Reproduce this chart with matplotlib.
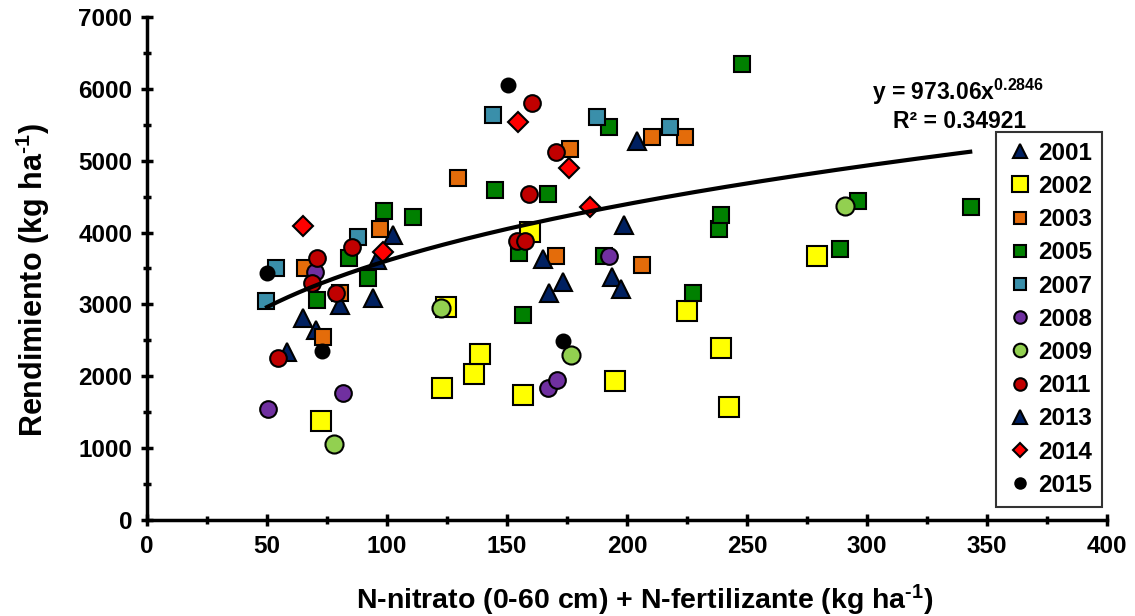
import numpy as np
import matplotlib.pyplot as plt
from matplotlib.ticker import MultipleLocator

plt.rcParams['font.family'] = ['Liberation Sans', 'DejaVu Sans']
plt.rcParams['font.weight'] = 'bold'
plt.rcParams['mathtext.fontset'] = 'custom'
plt.rcParams['mathtext.rm'] = 'Liberation Sans:bold'
plt.rcParams['mathtext.bf'] = 'Liberation Sans:bold'
plt.rcParams['mathtext.default'] = 'bf'

# Data: N available (kg/ha) and yield (kg/ha) per year
x_2001 = [58.3, 65.0, 70.4, 80.4, 94.2, 95.8, 102.5]
y_2001 = [2338, 2811, 2644, 2992, 3089, 3618, 3966]
x_2002 = [72.5, 122.9, 124.6, 136.2, 138.7, 156.7, 159.6, 195.0, 225.0, 239.2, 242.5, 279.2]
y_2002 = [1378, 1837, 2964, 2032, 2310, 1739, 4008, 1934, 2908, 2394, 1572, 3674]
x_2003 = [65.8, 73.3, 80.4, 97.1, 129.6, 170.4, 176.2, 206.2, 210.4, 224.2]
y_2003 = [3507, 2547, 3159, 4050, 4759, 3674, 5163, 3549, 5330, 5330]
x_2005 = [70.8, 84.2, 92.1, 98.7, 110.8, 145.0, 155.0, 156.7, 167.0, 190.4,
          192.5, 227.5, 238.3, 239.2, 247.9, 288.7, 296.2, 343.3]
y_2005 = [3061, 3646, 3368, 4300, 4217, 4592, 3716, 2853, 4537, 3674,
          5469, 3159, 4050, 4244, 6346, 3771, 4439, 4356]
x_2007 = [49.6, 53.7, 87.9, 144.2, 187.5, 217.9]
y_2007 = [3048, 3507, 3938, 5636, 5608, 5469]
x_2008 = [50.4, 70.0, 81.7, 167.0, 170.8, 192.5]
y_2008 = [1545, 3451, 1767, 1837, 1948, 3674]
x_2009 = [77.9, 122.5, 176.7, 290.8]
y_2009 = [1058, 2950, 2296, 4370]
x_2011 = [54.6, 68.7, 70.8, 78.7, 85.4, 154.2, 157.5, 159.2, 160.4, 170.4]
y_2011 = [2254, 3298, 3646, 3159, 3799, 3883, 3883, 4537, 5803, 5121]
x_2013 = [165.0, 167.5, 173.3, 193.7, 197.5, 198.7, 204.0]
y_2013 = [3632, 3159, 3312, 3382, 3215, 4105, 5274]
x_2014 = [65.0, 98.3, 154.6, 175.8, 184.6]
y_2014 = [4091, 3729, 5539, 4898, 4356]
x_2015 = [50.0, 72.9, 150.4, 173.3]
y_2015 = [3437, 2352, 6053, 2491]

# Power trendline from the chart: y = a * x^b
trend_a = 973.06
trend_b = 0.2846
trend_range = (50, 343)

series = [
    ('2001', x_2001, y_2001, '^', '#002060', 13),
    ('2002', x_2002, y_2002, 's', '#FFFF00', 15),
    ('2003', x_2003, y_2003, 's', '#E46C0A', 12),
    ('2005', x_2005, y_2005, 's', '#008000', 12),
    ('2007', x_2007, y_2007, 's', '#3A8FAA', 12),
    ('2008', x_2008, y_2008, 'o', '#7030A0', 12),
    ('2009', x_2009, y_2009, 'o', '#92D050', 13),
    ('2011', x_2011, y_2011, 'o', '#C00000', 12),
    ('2013', x_2013, y_2013, '^', '#002060', 13),
    ('2014', x_2014, y_2014, 'D', '#FF0000', 10),
    ('2015', x_2015, y_2015, 'o', '#000000', 10),
]

W, H = 1135, 616
fig = plt.figure(figsize=(W / 100, H / 100), dpi=100)
ax = fig.add_axes([147 / W, 1 - 520 / H, 960 / W, 503 / H])

for label, xs, ys, mk, col, ms in series:
    ax.plot(xs, ys, linestyle='none', marker=mk, markersize=ms,
            markerfacecolor=col, markeredgecolor='black',
            markeredgewidth=1.5, label=label)

# trendline
xt = np.linspace(trend_range[0], trend_range[1], 200)
ax.plot(xt, trend_a * xt ** trend_b, color='black', lw=3, zorder=5)

fig.text(958 / W, 1 - 92 / H, 'y = 973.06x$^{0.2846}$', ha='center',
         va='center', fontsize=16.5, fontweight='bold')
fig.text(960 / W, 1 - 121 / H, 'R² = 0.34921', ha='center',
         va='center', fontsize=16.5, fontweight='bold')

ax.set_xlim(0, 400)
ax.set_ylim(0, 7000)
ax.xaxis.set_major_locator(MultipleLocator(50))
ax.xaxis.set_minor_locator(MultipleLocator(25))
ax.yaxis.set_major_locator(MultipleLocator(1000))
ax.yaxis.set_minor_locator(MultipleLocator(500))
ax.tick_params(which='major', direction='inout', length=9, width=2.5,
               labelsize=17.5, pad=6)
ax.tick_params(which='minor', direction='inout', length=6, width=2.5)

for s in ['top', 'right']:
    ax.spines[s].set_visible(False)
for s in ['left', 'bottom']:
    ax.spines[s].set_linewidth(2.5)

ax.set_xlabel('N-nitrato (0-60 cm) + N-fertilizante (kg ha$^{\\text{-}1}$)',
              fontsize=20.5, fontweight='bold')
ax.set_ylabel('Rendimiento (kg ha$^{\\text{-}1}$)', fontsize=22,
              fontweight='bold')
ax.xaxis.set_label_coords((645 - 147) / 960, -(600 - 520) / 503)
ax.yaxis.set_label_coords(-(147 - 33) / 960, (520 - 280) / 503)
ax.xaxis.label.set_va('center')
ax.yaxis.label.set_va('center')

leg = ax.legend(loc='upper left', bbox_to_anchor=(996 / W, 1 - 132 / H),
                bbox_transform=fig.transFigure, frameon=True, fancybox=False,
                edgecolor='black', fontsize=17.5, markerscale=0.75,
                handletextpad=0.15, labelspacing=0.42, borderpad=0.4,
                handlelength=1.2, borderaxespad=0)
leg.get_frame().set_linewidth(1.5)

fig.savefig('out.png', dpi=100)
